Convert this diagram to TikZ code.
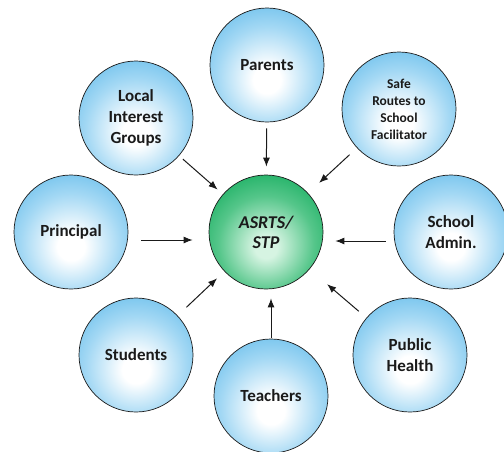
\documentclass[tikz,border=0pt]{standalone}
\usepackage{fontspec}
\setmainfont{Carlito}
\usepackage{tikz}
\usetikzlibrary{arrows.meta}
\definecolor{bubblue}{HTML}{52B4E8}
\definecolor{bubmid}{HTML}{A3D8F4}
\definecolor{hubgreen}{HTML}{00A550}
\definecolor{hubmid}{HTML}{55C68A}
\definecolor{hubcore}{HTML}{D6F4E2}
\definecolor{ink}{HTML}{1A1A1A}
\pgfdeclareradialshading{bubshade}{\pgfpoint{0bp}{-7bp}}{color(0bp)=(white); color(6bp)=(white); color(22bp)=(bubmid); color(39bp)=(bubblue); color(80bp)=(bubblue)}
\pgfdeclareradialshading{hubshade}{\pgfpoint{0bp}{-7bp}}{color(0bp)=(hubcore); color(5bp)=(hubcore); color(21bp)=(hubmid); color(38bp)=(hubgreen); color(80bp)=(hubgreen)}

\begin{document}
\begin{tikzpicture}[
  x=1pt, y=-1pt,
  bubble/.style={circle, draw=ink, line width=0.7pt, shading=bubshade,
                 minimum size=114pt, inner sep=0pt, align=center, text=ink,
                 font=\fontsize{17}{21}\selectfont\bfseries},
  hub/.style={bubble, shading=hubshade,
              font=\fontsize{18}{20}\selectfont\bfseries\itshape},
  arr/.style={-{Latex[length=9pt,width=7pt]}, line width=1pt, draw=ink}
]
\useasboundingbox (0,0) rectangle (504,451);
\node[hub] (hub) at (266,232) {ASRTS/\\STP};
\node[bubble] (par)    at (267,65)  {Parents};
\node[bubble, font=\fontsize{13.5}{17}\selectfont\bfseries] (safe) at (399,109)
  {Safe\\Routes to\\School\\Facilitator};
\node[bubble] (local)  at (136,118) {Local\\Interest\\Groups};
\node[bubble] (prin)   at (71,232)  {Principal};
\node[bubble] (admin)  at (451,232) {School\\Admin.};
\node[bubble] (stud)   at (136,355) {Students};
\node[bubble] (teach)  at (271,396) {Teachers};
\node[bubble] (health) at (410,355) {Public\\Health};
\draw[arr, shorten <=6pt, shorten >=8pt] (par) -- (hub);
\draw[arr, shorten <=5pt, shorten >=7pt] (local) -- (hub);
\draw[arr, shorten <=10pt, shorten >=15pt] (safe) -- (hub);
\draw[arr, shorten <=13pt, shorten >=16pt] ([yshift=-8pt]prin.east) -- ([yshift=-8pt]hub.west);
\draw[arr, shorten <=8pt, shorten >=12pt] ([yshift=-9pt]admin.west) -- ([yshift=-9pt]hub.east);
\draw[arr, shorten <=12pt, shorten >=10pt] (stud) -- (hub);
\draw[arr, shorten <=1pt, shorten >=9pt] (teach.north) -- (teach.north |- hub.south);
\draw[arr, shorten <=10pt, shorten >=23pt] (health) -- (hub);
\end{tikzpicture}
\end{document}
